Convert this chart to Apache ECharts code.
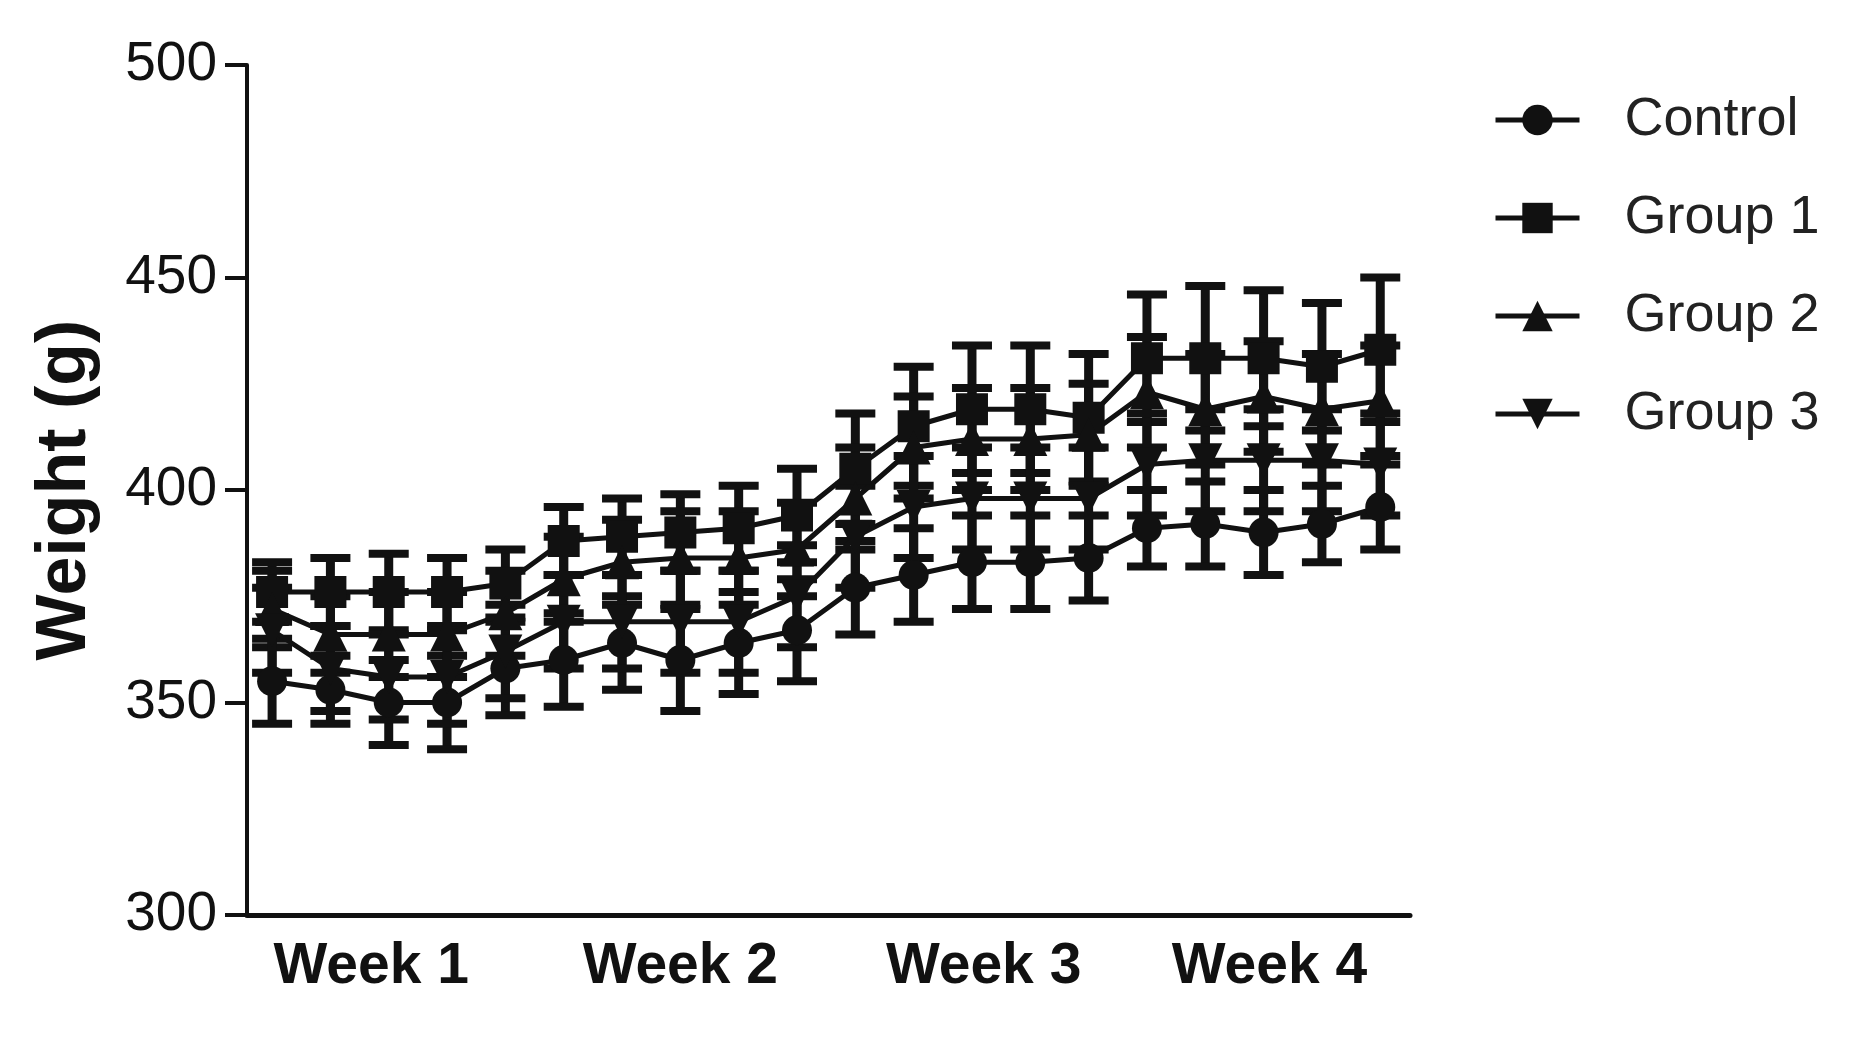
<!DOCTYPE html>
<html>
<head>
<meta charset="utf-8">
<title>Weight</title>
<script src="https://cdn.jsdelivr.net/npm/echarts@6/dist/echarts.min.js"></script>
<style>
  html, body { margin: 0; padding: 0; background: #fff; }
  #chart { width: 1869px; height: 1043px; }
</style>
</head>
<body>
<div id="chart"></div>
<script>
// measurement points (5 per week)
var points = [1, 2, 3, 4, 5, 6, 7, 8, 9, 10, 11, 12, 13, 14, 15, 16, 17, 18, 19, 20];
var weekPos = [2.7, 8, 13.2, 18.1];
var weekLabels = ['Week 1', 'Week 2', 'Week 3', 'Week 4'];
var yTicks = [300, 350, 400, 450, 500];

var controlMean = [355, 353, 350, 350, 358, 360, 364, 360, 364, 367, 377, 380, 383, 383, 384, 391, 392, 390, 392, 396];
var controlSd = [10, 8, 10, 11, 11, 11, 11, 12, 12, 12, 11, 11, 11, 11, 10, 9, 10, 10, 9, 10];
var group1Mean = [376, 376, 376, 376, 378, 388, 389, 390, 391, 394, 405, 415, 419, 419, 417, 431, 431, 431, 429, 433];
var group1Sd = [7, 8, 9, 8, 8, 8, 9, 9, 10, 11, 13, 14, 15, 15, 15, 15, 17, 16, 15, 17];
var group2Mean = [372, 366, 366, 366, 371, 379, 383, 384, 384, 386, 398, 410, 412, 412, 413, 423, 419, 422, 419, 421];
var group2Sd = [9, 9, 10, 10, 10, 10, 10, 11, 11, 11, 12, 12, 12, 12, 12, 13, 13, 13, 13, 13];
var group3Mean = [367, 358, 356, 356, 362, 369, 369, 369, 369, 375, 389, 396, 398, 398, 398, 406, 407, 407, 407, 406];
var group3Sd = [10, 10, 10, 11, 11, 11, 11, 12, 12, 12, 12, 12, 12, 12, 12, 12, 12, 12, 12, 12];

var FONT = '"Liberation Sans", Arial, sans-serif';
var INK = '#111';

function pairs(mean) {
  return points.map(function (p, i) { return [p, mean[i]]; });
}
function bars(mean, sd) {
  return points.map(function (p, i) { return [p, mean[i] - sd[i], mean[i] + sd[i]]; });
}

function renderBar(params, api) {
  var top = api.coord([api.value(0), api.value(2)]);
  var bot = api.coord([api.value(0), api.value(1)]);
  var half = 20;
  return {
    type: 'group',
    children: [
      { type: 'line', shape: { x1: top[0], y1: top[1], x2: bot[0], y2: bot[1] }, style: { stroke: INK, lineWidth: 9 } },
      { type: 'line', shape: { x1: top[0] - half, y1: top[1], x2: top[0] + half, y2: top[1] }, style: { stroke: INK, lineWidth: 8 } },
      { type: 'line', shape: { x1: bot[0] - half, y1: bot[1], x2: bot[0] + half, y2: bot[1] }, style: { stroke: INK, lineWidth: 8 } }
    ]
  };
}

function lineSeries(name, mean, symbol, size, rotate) {
  return {
    name: name,
    type: 'line',
    data: pairs(mean),
    symbol: symbol,
    symbolSize: size,
    symbolRotate: rotate || 0,
    showAllSymbol: true,
    itemStyle: { color: INK },
    lineStyle: { color: INK, width: 5 },
    z: 3
  };
}

function barSeries(mean, sd) {
  return {
    type: 'custom',
    renderItem: renderBar,
    data: bars(mean, sd),
    encode: { x: 0, y: [1, 2] },
    silent: true,
    z: 2
  };
}

var option = {
  animation: false,
  backgroundColor: '#fff',
  grid: { left: 247, right: 459, top: 65, bottom: 128 },
  legend: {
    orient: 'vertical',
    left: 1488,
    top: 85,
    itemWidth: 84,
    itemHeight: 38,
    itemGap: 38,
    data: ['Control', 'Group 1', 'Group 2', 'Group 3'],
    lineStyle: { width: 5, color: INK },
    textStyle: { fontFamily: FONT, fontSize: 54, color: '#222', lineHeight: 60, padding: [0, 0, 0, 40] }
  },
  xAxis: {
    type: 'value',
    min: 0.57,
    max: 20.51,
    axisLine: { lineStyle: { color: INK, width: 5 } },
    axisTick: { show: false },
    splitLine: { show: false },
    axisLabel: {
      customValues: weekPos,
      formatter: function (v) {
        var i = weekPos.indexOf(v);
        return i >= 0 ? weekLabels[i] : '';
      },
      fontFamily: FONT,
      fontSize: 57,
      fontWeight: 'bold',
      color: INK,
      margin: 24
    }
  },
  yAxis: {
    type: 'value',
    min: yTicks[0],
    max: yTicks[yTicks.length - 1],
    interval: 50,
    name: 'Weight (g)',
    nameLocation: 'middle',
    nameRotate: 90,
    nameGap: 146,
    nameTextStyle: { fontFamily: FONT, fontSize: 70, fontWeight: 'bold', color: INK },
    axisLine: { show: true, lineStyle: { color: INK, width: 4 } },
    axisTick: { show: true, length: 22, lineStyle: { color: INK, width: 4 } },
    splitLine: { show: false },
    axisLabel: { fontFamily: FONT, fontSize: 55, color: INK, margin: 30 }
  },
  series: [
    barSeries(controlMean, controlSd),
    barSeries(group1Mean, group1Sd),
    barSeries(group2Mean, group2Sd),
    barSeries(group3Mean, group3Sd),
    lineSeries('Control', controlMean, 'circle', 30),
    lineSeries('Group 1', group1Mean, 'rect', 32),
    lineSeries('Group 2', group2Mean, 'triangle', 34),
    lineSeries('Group 3', group3Mean, 'triangle', 34, 180)
  ]
};

var myChart = echarts.init(document.getElementById('chart'));
myChart.setOption(option);
</script>
</body>
</html>
